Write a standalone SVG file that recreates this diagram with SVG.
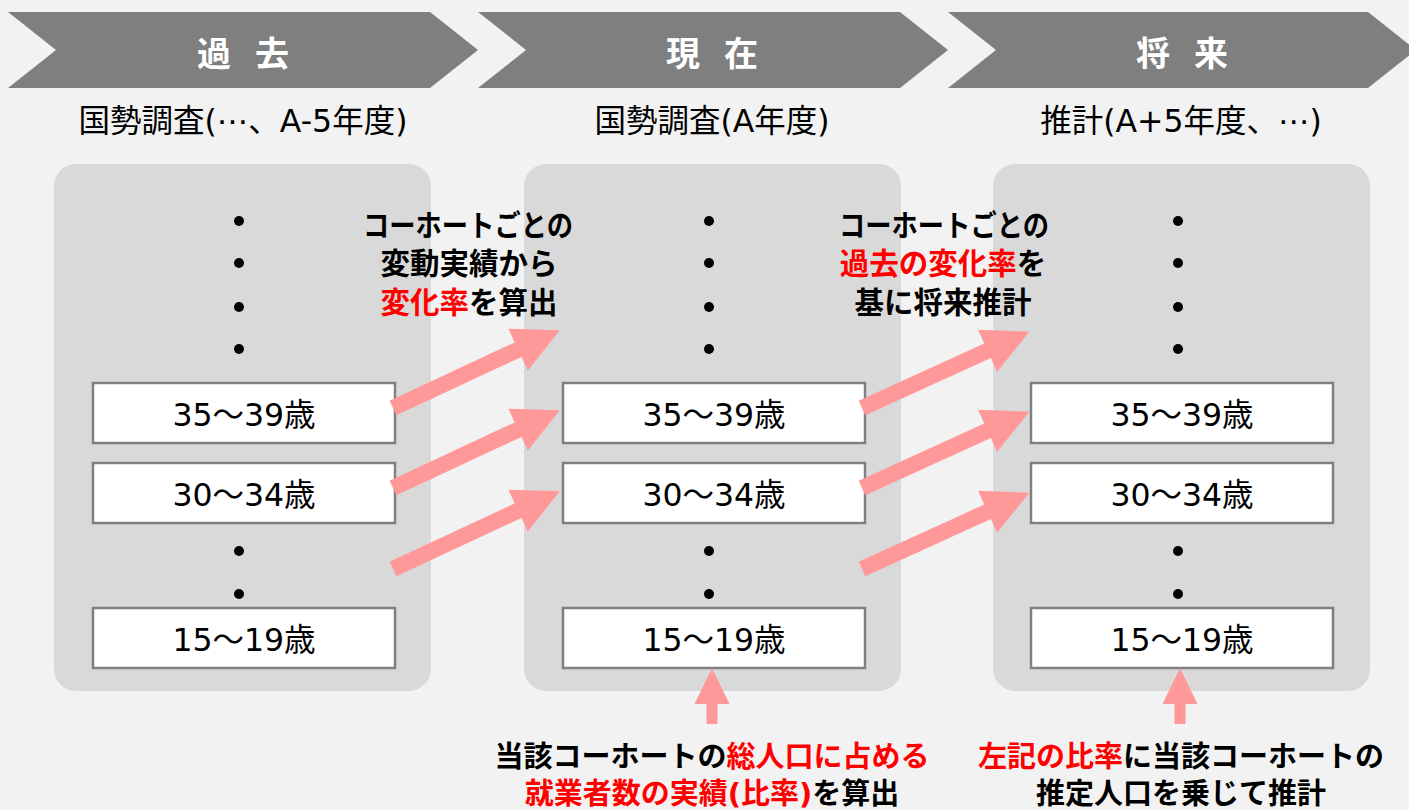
<svg xmlns="http://www.w3.org/2000/svg" xmlns:xlink="http://www.w3.org/1999/xlink" width="1409" height="810" viewBox="0 0 1409 810">
<style>
.chev{fill:#7F7F7F}
.panel{fill:#D9D9D9}
.box{fill:#FFFFFF;stroke:#808080;stroke-width:2.5}
.dot{fill:#000}
.arrow{fill:#FF9999}
.title{font-family:"Noto Sans CJK JP","Noto Sans",sans-serif;font-weight:bold;font-size:34px;fill:#FFFFFF;text-anchor:middle;letter-spacing:24px}
.sub{font-family:"DejaVu Sans","Noto Sans CJK JP",sans-serif;font-size:31.5px;fill:#000;text-anchor:middle}
.lbl{font-family:"DejaVu Sans","Noto Sans CJK JP",sans-serif;font-size:31.5px;fill:#000;text-anchor:middle}
.note{font-family:"Noto Sans CJK JP","Noto Sans",sans-serif;font-weight:bold;font-size:29.5px;fill:#000;text-anchor:middle}
.note2{font-family:"DejaVu Sans","Noto Sans CJK JP",sans-serif;font-weight:bold;font-size:29px;fill:#000;text-anchor:middle}
.red{fill:#FF0000}
</style>
<defs>
<polygon id="diag" points="0,-8 138,-8 138,-23 184,0 138,23 138,8 0,8"/>
<polygon id="up" points="0,0 17.5,36 5.5,36 5.5,56 -5.5,56 -5.5,36 -17.5,36"/>
</defs>
<rect x="0" y="0" width="1409" height="810" fill="#F2F2F2"/>

<g id="header-past">
<polygon class="chev" points="8,12 430,12 478,50 430,88 8,88 56,50"/>
<text class="title" x="255" y="66">過去</text>
</g>
<g id="header-present">
<polygon class="chev" points="478,12 900,12 948,50 900,88 478,88 526,50"/>
<text class="title" x="724" y="66">現在</text>
</g>
<g id="header-future">
<polygon class="chev" points="948,12 1368,12 1416,50 1368,88 948,88 996,50"/>
<text class="title" x="1194" y="66">将来</text>
</g>

<text class="sub" x="243" y="132">国勢調査(⋯、A-5年度)</text>
<text class="sub" x="712" y="132">国勢調査(A年度)</text>
<text class="sub" x="1181" y="132">推計(A+5年度、⋯)</text>

<g id="panel-past">
<rect class="panel" x="54" y="164" width="377" height="527" rx="22"/>
<circle class="dot" cx="239" cy="221" r="5"/>
<circle class="dot" cx="239" cy="263" r="5"/>
<circle class="dot" cx="239" cy="307" r="5"/>
<circle class="dot" cx="239" cy="349" r="5"/>
<circle class="dot" cx="239" cy="551" r="5"/>
<circle class="dot" cx="239" cy="594" r="5"/>
</g>
<g id="past-35"><rect class="box" x="93" y="383" width="302" height="60"/><text class="lbl" x="244" y="426">35～39歳</text></g>
<g id="past-30"><rect class="box" x="93" y="463" width="302" height="60"/><text class="lbl" x="244" y="506">30～34歳</text></g>
<g id="past-15"><rect class="box" x="93" y="608" width="302" height="60"/><text class="lbl" x="244" y="651">15～19歳</text></g>

<g id="panel-present">
<rect class="panel" x="524" y="164" width="377" height="527" rx="22"/>
<circle class="dot" cx="709" cy="221" r="5"/>
<circle class="dot" cx="709" cy="263" r="5"/>
<circle class="dot" cx="709" cy="307" r="5"/>
<circle class="dot" cx="709" cy="349" r="5"/>
<circle class="dot" cx="709" cy="551" r="5"/>
<circle class="dot" cx="709" cy="594" r="5"/>
</g>
<g id="present-35"><rect class="box" x="563" y="383" width="302" height="60"/><text class="lbl" x="714" y="426">35～39歳</text></g>
<g id="present-30"><rect class="box" x="563" y="463" width="302" height="60"/><text class="lbl" x="714" y="506">30～34歳</text></g>
<g id="present-15"><rect class="box" x="563" y="608" width="302" height="60"/><text class="lbl" x="714" y="651">15～19歳</text></g>

<g id="panel-future">
<rect class="panel" x="993" y="164" width="377" height="527" rx="22"/>
<circle class="dot" cx="1178" cy="221" r="5"/>
<circle class="dot" cx="1178" cy="263" r="5"/>
<circle class="dot" cx="1178" cy="307" r="5"/>
<circle class="dot" cx="1178" cy="349" r="5"/>
<circle class="dot" cx="1178" cy="551" r="5"/>
<circle class="dot" cx="1178" cy="594" r="5"/>
</g>
<g id="future-35"><rect class="box" x="1031" y="383" width="302" height="60"/><text class="lbl" x="1182" y="426">35～39歳</text></g>
<g id="future-30"><rect class="box" x="1031" y="463" width="302" height="60"/><text class="lbl" x="1182" y="506">30～34歳</text></g>
<g id="future-15"><rect class="box" x="1031" y="608" width="302" height="60"/><text class="lbl" x="1182" y="651">15～19歳</text></g>

<g id="connectors" class="arrow">
<use xlink:href="#diag" transform="translate(393,408) rotate(-25)"/>
<use xlink:href="#diag" transform="translate(393,488) rotate(-25)"/>
<use xlink:href="#diag" transform="translate(393,569) rotate(-25)"/>
<use xlink:href="#diag" transform="translate(862,408) rotate(-24.5)"/>
<use xlink:href="#diag" transform="translate(862,488) rotate(-24.5)"/>
<use xlink:href="#diag" transform="translate(862,569) rotate(-24.5)"/>
<use xlink:href="#up" transform="translate(712,668)"/>
<use xlink:href="#up" transform="translate(1180,668)"/>
</g>

<g id="note-rate">
<text class="note" x="468" y="236" textLength="210" lengthAdjust="spacingAndGlyphs">コーホートごとの</text>
<text class="note" x="469" y="274">変動実績から</text>
<text class="note" x="469" y="313"><tspan class="red">変化率</tspan>を算出</text>
</g>
<g id="note-projection">
<text class="note" x="944" y="236" textLength="210" lengthAdjust="spacingAndGlyphs">コーホートごとの</text>
<text class="note" x="943" y="274"><tspan class="red">過去の変化率</tspan>を</text>
<text class="note" x="943" y="313">基に将来推計</text>
</g>
<g id="note-ratio">
<text class="note2" x="712" y="767">当該コーホートの<tspan class="red">総人口に占める</tspan></text>
<text class="note2" x="712" y="804"><tspan class="red">就業者数の実績(比率)</tspan>を算出</text>
</g>
<g id="note-estimate">
<text class="note2" x="1181" y="767"><tspan class="red">左記の比率</tspan>に当該コーホートの</text>
<text class="note2" x="1181" y="804">推定人口を乗じて推計</text>
</g>
</svg>
